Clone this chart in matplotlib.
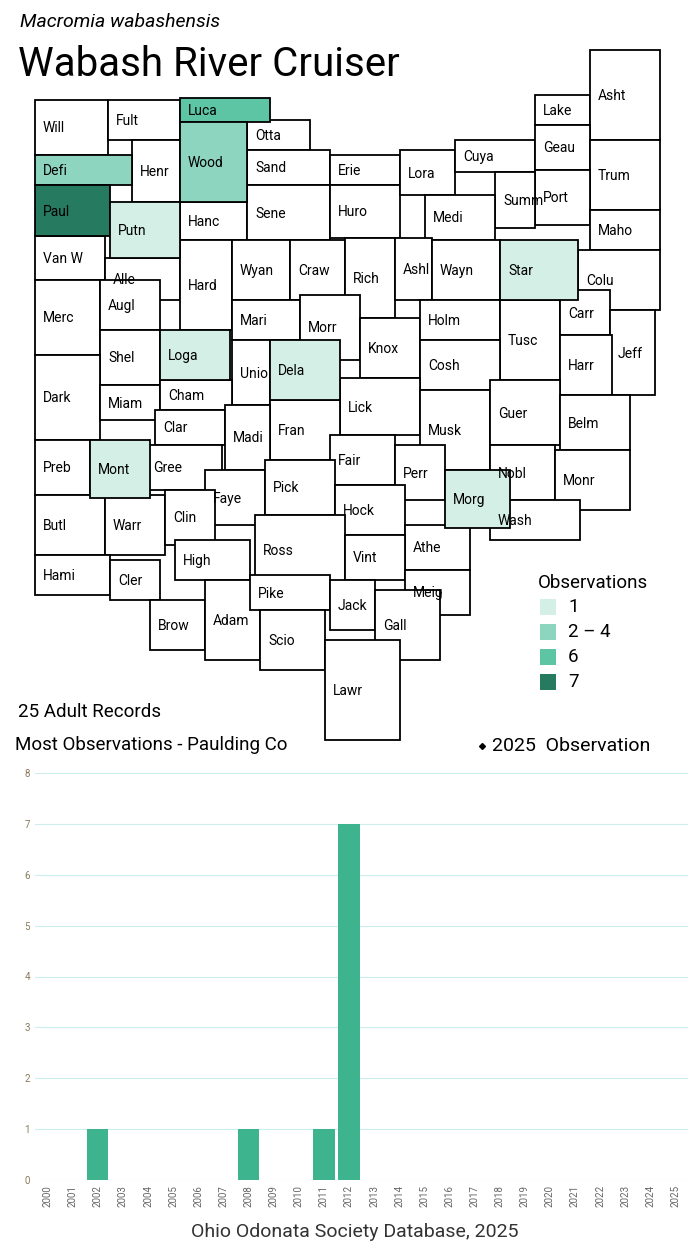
import matplotlib
matplotlib.use("Agg")
import matplotlib.pyplot as plt
from matplotlib.patches import Rectangle

plt.rcParams['font.family'] = ['Roboto', 'DejaVu Sans']

# --- data ---------------------------------------------------------------
years = list(range(2000, 2026))
counts = [0, 0, 1, 0, 0, 0, 0, 0, 1, 0, 0, 1, 7, 0, 0, 0, 0, 0, 0, 0, 0, 0, 0, 0, 0, 0]

county_obs = {"Paul": 7, "Luca": 6, "Wood": 3, "Defi": 3, "Putn": 1, "Star": 1,
              "Loga": 1, "Dela": 1, "Mont": 1, "Morg": 1}

bins = ["1", "2 – 4", "6", "7"]
bin_colors = ["#d4efe6", "#8ed5bf", "#5ec5a4", "#257a5f"]

# rough county boxes in picture pixels: name, x0, y0, x1, y1
counties = [
    ("Will", 35, 100, 108, 155), ("Fult", 108, 100, 180, 140), ("Luca", 180, 98, 270, 122),
    ("Wood", 180, 122, 247, 202), ("Otta", 247, 120, 310, 150), ("Henr", 132, 140, 180, 202),
    ("Defi", 35, 155, 132, 185), ("Paul", 35, 185, 110, 236), ("Putn", 110, 202, 180, 258),
    ("Hanc", 180, 202, 247, 240), ("Sand", 247, 150, 330, 185), ("Sene", 247, 185, 330, 240),
    ("Erie", 330, 155, 400, 185), ("Huro", 330, 185, 400, 238), ("Lora", 400, 150, 455, 195),
    ("Cuya", 455, 140, 535, 172), ("Lake", 535, 95, 590, 125), ("Asht", 590, 50, 660, 140),
    ("Geau", 535, 125, 590, 170), ("Trum", 590, 140, 660, 210), ("Port", 535, 170, 590, 225),
    ("Summ", 495, 172, 535, 228), ("Medi", 425, 195, 495, 240), ("Maho", 590, 210, 660, 250),
    ("Van W", 35, 236, 105, 280), ("Alle", 105, 258, 180, 300), ("Hard", 180, 240, 232, 330),
    ("Wyan", 232, 240, 290, 300), ("Craw", 290, 240, 345, 300), ("Rich", 345, 238, 395, 318),
    ("Ashl", 395, 238, 432, 300), ("Wayn", 432, 240, 500, 300), ("Star", 500, 240, 578, 300),
    ("Colu", 578, 250, 660, 310), ("Merc", 35, 280, 100, 355), ("Augl", 100, 280, 160, 330),
    ("Mari", 232, 300, 300, 340), ("Morr", 300, 295, 360, 360), ("Knox", 360, 318, 420, 378),
    ("Holm", 420, 300, 500, 340), ("Tusc", 500, 300, 560, 380), ("Carr", 560, 290, 610, 335),
    ("Jeff", 610, 310, 655, 395), ("Shel", 100, 330, 160, 385), ("Loga", 160, 330, 230, 380),
    ("Unio", 232, 340, 270, 405), ("Dela", 270, 340, 340, 400), ("Cosh", 420, 340, 500, 390),
    ("Harr", 560, 335, 612, 395), ("Dark", 35, 355, 100, 440), ("Miam", 100, 385, 160, 420),
    ("Cham", 160, 380, 232, 410), ("Lick", 340, 378, 420, 435), ("Musk", 420, 390, 490, 470),
    ("Guer", 490, 380, 560, 445), ("Belm", 560, 395, 630, 450), ("Clar", 155, 410, 225, 445),
    ("Fran", 270, 400, 340, 460), ("Madi", 225, 405, 270, 470), ("Preb", 35, 440, 90, 495),
    ("Mont", 90, 440, 150, 498), ("Gree", 145, 445, 222, 490), ("Fair", 330, 435, 395, 485),
    ("Perr", 395, 445, 445, 500), ("Nobl", 490, 445, 555, 500), ("Monr", 555, 450, 630, 510),
    ("Faye", 205, 470, 265, 525), ("Pick", 265, 460, 335, 515), ("Morg", 445, 470, 510, 528),
    ("Butl", 35, 495, 105, 555), ("Warr", 105, 495, 165, 555), ("Clin", 165, 490, 215, 545),
    ("Hock", 335, 485, 405, 535), ("Wash", 490, 500, 580, 540), ("Ross", 255, 515, 345, 585),
    ("Athe", 405, 525, 470, 570), ("Hami", 35, 555, 110, 595), ("Cler", 110, 560, 160, 600),
    ("High", 175, 540, 250, 580), ("Vint", 345, 535, 405, 580), ("Meig", 405, 570, 470, 615),
    ("Brow", 150, 600, 205, 650), ("Adam", 205, 580, 260, 660), ("Pike", 250, 575, 330, 610),
    ("Jack", 330, 580, 375, 630), ("Scio", 260, 610, 325, 670), ("Gall", 375, 590, 440, 660),
    ("Lawr", 325, 640, 400, 740),
]


def bin_color(n):
    if n == 1:
        return bin_colors[0]
    if n <= 4:
        return bin_colors[1]
    if n == 6:
        return bin_colors[2]
    return bin_colors[3]


fig = plt.figure(figsize=(7, 12.5), dpi=100)
ax = fig.add_axes([0, 0, 1, 1])
ax.set_xlim(0, 700); ax.set_ylim(1250, 0); ax.axis("off")

# uncoloured first, coloured on top
ordered = sorted(counties, key=lambda c: c[0] in county_obs)
for name, x0, y0, x1, y1 in ordered:
    n = county_obs.get(name, 0)
    fc = bin_color(n) if n else "white"
    ax.add_patch(Rectangle((x0, y0), x1 - x0, y1 - y0, fc=fc, ec="black", lw=1.3))
for name, x0, y0, x1, y1 in counties:
    ax.text(x0 + 8, (y0 + y1) / 2 + 1, name, fontsize=10, va="center", ha="left")

ax.text(20, 22, "Macromia wabashensis", fontsize=14, style="italic", va="center")
ax.text(18, 65, "Wabash River Cruiser", fontsize=29, va="center")

ax.text(538, 583, "Observations", fontsize=13.5, va="center")
for i, (lab, col) in enumerate(zip(bins, bin_colors)):
    yy = 607 + i * 25
    ax.add_patch(Rectangle((540, yy - 8), 16, 16, fc=col, ec="none"))
    ax.text(568, yy, lab, fontsize=13.5, va="center")

ax.text(18, 712, "25 Adult Records", fontsize=13.5, va="center")
ax.text(15, 745, "Most Observations - Paulding Co", fontsize=13.5, va="center")
ax.plot([482], [746], marker="D", ms=3, color="black")
ax.text(492, 746, "2025  Observation", fontsize=14, va="center")
ax.text(355, 1232, "Ohio Odonata Society Database, 2025", fontsize=14, va="center", ha="center", color="#333333")

# --- bar chart ----------------------------------------------------------
bx = fig.add_axes([35 / 700, 70 / 1250, 653 / 700, 407 / 1250])
bx.bar(years, counts, width=0.85, color="#3db38e", zorder=2)
bx.set_xlim(1999.5, 2025.5)
bx.set_ylim(0, 8)
bx.set_yticks(range(9))
bx.set_xticks(years)
bx.set_xticklabels([str(y) for y in years], rotation=90, fontsize=7, color="#666666")
bx.tick_params(axis="y", labelsize=7, colors="#8a7a5a", length=0)
bx.tick_params(axis="x", length=0)
bx.grid(axis="y", color="#cdeeee", lw=0.8, zorder=0)
for s in bx.spines.values():
    s.set_visible(False)

fig.savefig("out.png", dpi=100)
